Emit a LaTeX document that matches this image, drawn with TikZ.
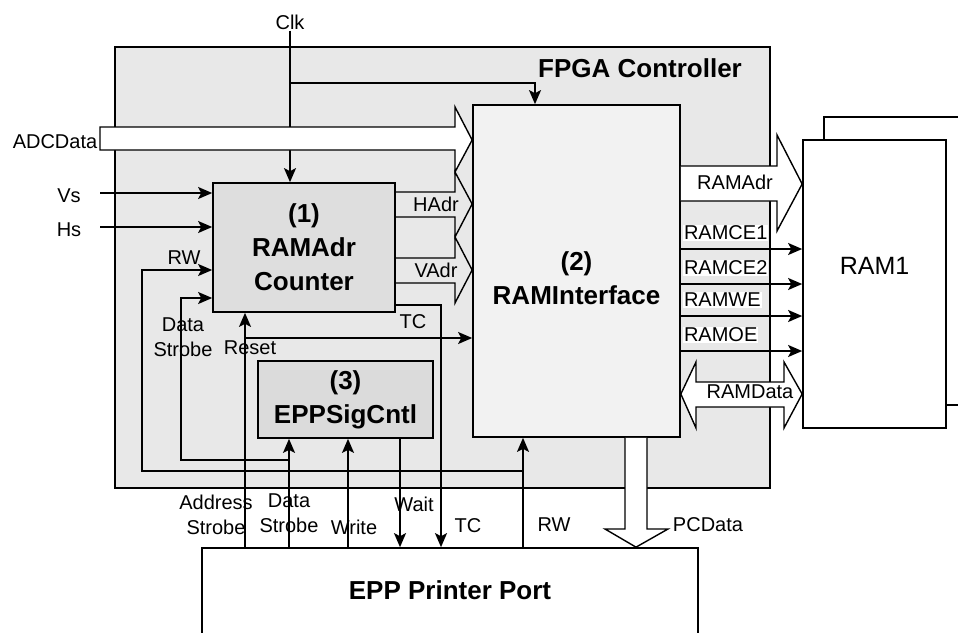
\documentclass[tikz,border=0pt]{standalone}
\usepackage{fontspec}
\setmainfont{Liberation Sans}
\usetikzlibrary{positioning,arrows.meta,calc}
\tikzset{
  sig/.style={-{Stealth[length=14pt,width=12pt,inset=3pt]},line width=1.4pt},
  bus/.style={line width=1.4pt,line join=miter},
  busw/.style={bus,fill=white},
  blk/.style={draw,line width=1.7pt,inner sep=0pt},
  lbl/.style={font={\fontsize{20}{25}\selectfont},inner sep=1pt,align=center},
  ttl/.style={font={\fontsize{26}{34}\selectfont\bfseries},align=center},
}
\begin{document}
\begin{tikzpicture}[x=1pt,y=-1pt]
  \clip (0,0) rectangle (958,632);
  % FPGA area
  \node[blk,fill=black!9,minimum width=655pt,minimum height=441pt] (fpga) at (442.5,267.5) {};
  \node[ttl] (fpgattl) at (640,68) {FPGA Controller};
  % RAM chips and printer port
  \node[blk,fill=white,minimum width=146pt,minimum height=288pt] (ramb) at (897,261) {};
  \node[blk,fill=white,minimum width=143pt,minimum height=288pt] (ram) at (874.5,284) {};
  \node[font={\fontsize{25}{30}\selectfont}] (ramttl) at (874.5,266) {RAM1};
  \node[blk,fill=white,minimum width=496pt,minimum height=100pt] (epp) at (450,598) {};
  \node[ttl] (eppttl) at (450,590) {EPP Printer Port};
  % blocks
  \node[blk,ttl,fill=black!13,minimum width=182pt,minimum height=129pt] (cnt) at (304,247.5) {(1)\\RAMAdr\\Counter};
  \node[blk,fill=black!5,minimum width=207pt,minimum height=332pt] (rif) at (576.5,271) {};
  \node[ttl] (rifttl) at (576.5,278) {(2)\\RAMInterface};
  \node[blk,ttl,fill=black!14,minimum width=175pt,minimum height=77pt] (esc) at (345.5,399.5) {(3)\\EPPSigCntl};
  % clock
  \node[lbl] (clk) at (290,22) {Clk};
  \coordinate (clkbr) at (290,83);
  \draw[sig] (clk.south) -- (clk.south |- cnt.north);
  \draw[sig] (clkbr) -| ([xshift=-41.5pt]rif.north);
  % sync inputs
  \coordinate (vsin) at (100,193);
  \coordinate (hsin) at (100,227);
  \draw[sig] (vsin) -- (vsin -| cnt.west);
  \draw[sig] (hsin) -- (hsin -| cnt.west);
  \node[lbl] (vs) at (69,196) {Vs};
  \node[lbl] (hs) at (69,230) {Hs};
  % buses into RAMInterface
  \draw[busw] (100,127) -- (455,127) -- (455,107) -- (rif.west |- 0,140) -- (455,172) -- (455,150) -- (100,150) -- cycle;
  \node[lbl] (adc) at (55,142) {ADCData};
  \draw[bus] (cnt.east |- 0,192) -- (455,192) -- (455,172) -- (rif.west |- 0,204) -- (455,237) -- (455,217) -- (cnt.east |- 0,217);
  \draw[bus] (cnt.east |- 0,258) -- (455,258) -- (455,237) -- (rif.west |- 0,270) -- (455,303) -- (455,283) -- (cnt.east |- 0,283);
  \node[lbl] (hadr) at (436,204) {HAdr};
  \node[lbl] (vadr) at (436,270) {VAdr};
  % printer port signals
  \coordinate (asb) at (245,0 |- epp.north);
  \coordinate (dsb) at (289,0 |- epp.north);
  \coordinate (wrb) at (348,0 |- epp.north);
  \coordinate (wtb) at (400,0 |- epp.north);
  \coordinate (tcb) at (441,0 |- epp.north);
  \coordinate (rwb) at (523,0 |- epp.north);
  \draw[sig] (asb) -- (asb |- cnt.south);
  \draw[sig] (245,338) -- (245,338 -| rif.west);
  \draw[sig] (dsb) -- (dsb |- esc.south);
  \draw[sig] (289,460) -| (181,298) -- (181,298 -| cnt.west);
  \draw[sig] (wrb) -- (wrb |- esc.south);
  \draw[sig] (wtb |- esc.south) -- (wtb);
  \draw[sig] ([yshift=8pt]cnt.south east) -| (tcb);
  \draw[sig] (rwb) -- (rwb |- rif.south);
  \draw[sig] (523,471) -| (142,270) -- (142,270 -| cnt.west);
  \node[lbl] (rwl) at (184,258) {RW};
  \node[lbl] (dsl) at (183,337) {Data\\Strobe};
  \node[lbl] (rstl) at (250,348) {Reset};
  \node[lbl] (tcl) at (413,322) {TC};
  \node[lbl] (asl) at (216,515) {Address\\Strobe};
  \node[lbl] (dsl2) at (289,513) {Data\\Strobe};
  \node[lbl] (wrl) at (354,527) {Write};
  \node[lbl] (wtl) at (414,504) {Wait};
  \node[lbl] (tcl2) at (468,526) {TC};
  \node[lbl] (rwl2) at (554,525) {RW};
  % RAM side
  \draw[busw] (rif.east |- 0,166) -- (777,166) -- (777,135) -- (ram.west |- 0,184) -- (777,231) -- (777,201) -- (rif.east |- 0,201);
  \node[lbl] (radr) at (735,182) {RAMAdr};
  \foreach \y/\t in {249/RAMCE1,284/RAMCE2,316/RAMWE,351/RAMOE}{
    \draw[sig] (rif.east |- 0,\y) -- (ram.west |- 0,\y);
    \node[lbl,fill=white,anchor=south west,yshift=8pt] at ([xshift=2pt]rif.east |- 0,\y) {\t};
  }
  \draw[busw] (rif.east |- 0,394) -- (696,362) -- (696,382) -- (784,382) -- (784,362) -- (ram.west |- 0,394) -- (784,428) -- (784,407) -- (696,407) -- (696,428) -- cycle;
  \node[lbl] (rdat) at (750,392) {RAMData};
  % PC data
  \draw[busw] (625,0 |- rif.south) -- (625,529) -- (605,529) -- (636,0 |- epp.north) -- (668,529) -- (647,529) -- (647,0 |- rif.south);
  \node[lbl] (pcd) at (708,525) {PCData};
\end{tikzpicture}
\end{document}
